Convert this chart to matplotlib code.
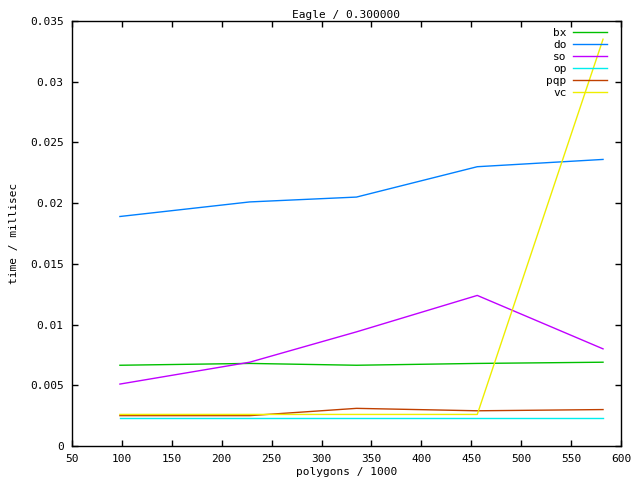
import matplotlib
matplotlib.use("Agg")
import matplotlib.pyplot as plt

# polygon counts (thousands) and timings (millisec)
polygons = [98, 228, 335, 456, 582]
bx = [0.00665, 0.0068, 0.00665, 0.0068, 0.0069]
do = [0.0189, 0.0201, 0.0205, 0.0230, 0.0236]
so = [0.0051, 0.0069, 0.0094, 0.0124, 0.0080]
op = [0.0023, 0.0023, 0.0023, 0.0023, 0.0023]
pqp = [0.0025, 0.0025, 0.0031, 0.0029, 0.0030]
vc = [0.0026, 0.0026, 0.0026, 0.0026, 0.0335]

series = [("bx", bx, "#00c000"),
          ("do", do, "#0080ff"),
          ("so", so, "#c000ff"),
          ("op", op, "#00eeee"),
          ("pqp", pqp, "#c04000"),
          ("vc", vc, "#eeee00")]

xticks = [50, 100, 150, 200, 250, 300, 350, 400, 450, 500, 550, 600]
yticks = [0, 0.005, 0.01, 0.015, 0.02, 0.025, 0.03, 0.035]
ytick_labels = ["0", "0.005", "0.01", "0.015", "0.02", "0.025", "0.03", "0.035"]

plt.rcParams["font.family"] = "DejaVu Sans Mono"
plt.rcParams["font.size"] = 8

fig = plt.figure(figsize=(6.4, 4.8), dpi=100)
ax = fig.add_axes([72 / 640, 34 / 480, 549 / 640, 425 / 480])

for name, values, color in series:
    ax.plot(polygons, values, color=color, lw=1, label=name)

ax.set_xlim(50, 600)
ax.set_ylim(0, 0.035)
ax.set_xticks(xticks)
ax.set_xticklabels([str(t) for t in xticks])
ax.set_yticks(yticks)
ax.set_yticklabels(ytick_labels)
ax.tick_params(direction="in", length=4.5, width=1, top=True, right=True, pad=6)
for spine in ax.spines.values():
    spine.set_linewidth(1)

ax.set_title("Eagle / 0.300000", fontsize=8, pad=2)
ax.set_xlabel("polygons / 1000", labelpad=2)
ax.set_ylabel("time / millisec", labelpad=8)

# gnuplot style key: label right-justified, sample to its right
ax.legend(loc="upper right", bbox_to_anchor=(0.975, 0.983), frameon=False,
          markerfirst=False, handlelength=3.1, handletextpad=0.55,
          labelspacing=0.17, borderaxespad=0, borderpad=0)

fig.savefig("out.png", dpi=100)
